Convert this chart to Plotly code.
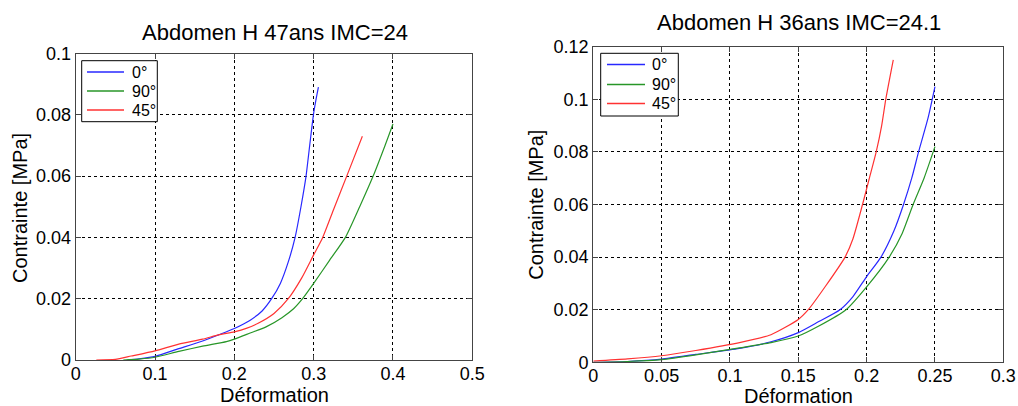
import plotly.graph_objects as go

# ---- Left chart: Abdomen H 47ans IMC=24 ----
left_title = "Abdomen H 47ans IMC=24"
l0_x = [0.065, 0.08, 0.10, 0.13, 0.16, 0.18, 0.20, 0.22, 0.235, 0.247, 0.258, 0.268, 0.2766, 0.284, 0.2904, 0.295, 0.2997, 0.303, 0.306]
l0_y = [0.0, 0.0004, 0.0012, 0.0037, 0.0062, 0.0082, 0.0103, 0.013, 0.016, 0.02, 0.025, 0.032, 0.04, 0.05, 0.06, 0.07, 0.08, 0.085, 0.089]
l90_x = [0.06, 0.08, 0.10, 0.13, 0.16, 0.19, 0.20, 0.22, 0.24, 0.26, 0.275, 0.286, 0.30, 0.32, 0.34, 0.358, 0.375, 0.39, 0.40]
l90_y = [0.0, 0.0003, 0.0009, 0.0028, 0.0045, 0.006, 0.0068, 0.0088, 0.0108, 0.0138, 0.0168, 0.02, 0.025, 0.0325, 0.04, 0.05, 0.06, 0.07, 0.077]
l45_x = [0.026, 0.05, 0.07, 0.10, 0.13, 0.16, 0.18, 0.20, 0.215, 0.23, 0.25, 0.268, 0.285, 0.30, 0.3114, 0.326, 0.3417, 0.3614]
l45_y = [0.0, 0.0002, 0.0013, 0.003, 0.0052, 0.0068, 0.0082, 0.0092, 0.0103, 0.012, 0.0152, 0.02, 0.0268, 0.0343, 0.04, 0.0497, 0.06, 0.073]
left_xticks = [0, 0.1, 0.2, 0.3, 0.4, 0.5]
left_xlabels = ["0", "0.1", "0.2", "0.3", "0.4", "0.5"]
left_yticks = [0, 0.02, 0.04, 0.06, 0.08, 0.1]
left_ylabels = ["0", "0.02", "0.04", "0.06", "0.08", "0.1"]

# ---- Right chart: Abdomen H 36ans IMC=24.1 ----
right_title = "Abdomen H 36ans IMC=24.1"
r0_x = [0.0, 0.025, 0.05, 0.075, 0.107, 0.13, 0.15, 0.165, 0.1805, 0.19, 0.20, 0.2105, 0.22, 0.227, 0.233, 0.238, 0.245, 0.25]
r0_y = [0.0, 0.0003, 0.0012, 0.003, 0.0053, 0.0078, 0.0113, 0.0155, 0.02, 0.025, 0.0326, 0.04, 0.05, 0.06, 0.07, 0.08, 0.093, 0.1048]
r90_x = [0.0, 0.025, 0.05, 0.075, 0.107, 0.13, 0.15, 0.165, 0.1849, 0.20, 0.2165, 0.226, 0.234, 0.242, 0.25]
r90_y = [0.0, 0.0003, 0.001, 0.0028, 0.0055, 0.0075, 0.01, 0.0138, 0.02, 0.0287, 0.04, 0.049, 0.06, 0.07, 0.082]
r45_x = [0.0, 0.025, 0.05, 0.075, 0.107, 0.13, 0.15, 0.1573, 0.17, 0.1842, 0.19, 0.197, 0.202, 0.207, 0.211, 0.214, 0.2195]
r45_y = [0.0005, 0.0013, 0.0025, 0.0045, 0.0075, 0.0105, 0.0163, 0.02, 0.029, 0.04, 0.047, 0.06, 0.07, 0.08, 0.09, 0.1, 0.115]
right_xticks = [0, 0.05, 0.1, 0.15, 0.2, 0.25, 0.3]
right_xlabels = ["0", "0.05", "0.1", "0.15", "0.2", "0.25", "0.3"]
right_yticks = [0, 0.02, 0.04, 0.06, 0.08, 0.1, 0.12]
right_ylabels = ["0", "0.02", "0.04", "0.06", "0.08", "0.1", "0.12"]

series_names = ["0°", "90°", "45°"]
series_colors = ["rgb(40,40,255)", "rgb(40,150,40)", "rgb(255,50,50)"]

xlabel = "Déformation"
ylabel = "Contrainte [MPa]"

FONT = "Liberation Sans, Arial, sans-serif"
W, H = 1018, 406

fig = go.Figure()
left_data = [(l0_x, l0_y), (l90_x, l90_y), (l45_x, l45_y)]
right_data = [(r0_x, r0_y), (r90_x, r90_y), (r45_x, r45_y)]
for (xs, ys), name, col in zip(left_data, series_names, series_colors):
    fig.add_trace(go.Scatter(x=xs, y=ys, mode="lines", name=name, showlegend=False,
                             line=dict(color=col, width=1.2, shape="spline", smoothing=0.6),
                             xaxis="x", yaxis="y"))
for (xs, ys), name, col in zip(right_data, series_names, series_colors):
    fig.add_trace(go.Scatter(x=xs, y=ys, mode="lines", name=name, showlegend=False,
                             line=dict(color=col, width=1.2, shape="spline", smoothing=0.6),
                             xaxis="x2", yaxis="y2"))

def px_x(p):
    return p / W

def px_y(p):
    return (H - p) / H

axis_common = dict(
    showline=True, linecolor="#444", linewidth=1.2, mirror="ticks",
    ticks="inside", ticklen=5, tickcolor="#444", tickwidth=1,
    showgrid=True, gridcolor="black", griddash="dot", gridwidth=1,
    zeroline=False, tickfont=dict(family=FONT, size=18, color="black"),
    fixedrange=True, automargin=False,
)

fig.update_layout(
    width=W, height=H,
    margin=dict(l=0, r=0, t=0, b=0),
    paper_bgcolor="white", plot_bgcolor="white",
    font=dict(family=FONT, color="black"),
    showlegend=False,
    xaxis=dict(domain=[px_x(75.7), px_x(472.3)], range=[0, 0.5], ticklabelstandoff=-3,
               tickvals=left_xticks, ticktext=left_xlabels, anchor="y", **axis_common),
    yaxis=dict(domain=[px_y(360), px_y(53.5)], range=[0, 0.1],
               tickvals=left_yticks, ticktext=left_ylabels, anchor="x", **axis_common),
    xaxis2=dict(domain=[px_x(593.3), px_x(1003.3)], range=[0, 0.3], ticklabelstandoff=-3,
                tickvals=right_xticks, ticktext=right_xlabels, anchor="y2", **axis_common),
    yaxis2=dict(domain=[px_y(362.3), px_y(46.7)], range=[0, 0.12],
                tickvals=right_yticks, ticktext=right_ylabels, anchor="x2", **axis_common),
)

# Legend boxes (MATLAB style), in pixel positions of the page
legend_specs = [
    dict(box=(81.7, 60.7, 157.3, 121.7), line_x=(87, 124), text_x=130, rows=(72, 91, 110)),
    dict(box=(600.7, 53.3, 678.3, 116), line_x=(607, 645), text_x=650, rows=(64.5, 84.5, 103.5)),
]
for spec in legend_specs:
    x0, y0, x1, y1 = spec["box"]
    fig.add_shape(type="rect", xref="paper", yref="paper",
                  x0=px_x(x0), x1=px_x(x1), y0=px_y(y1), y1=px_y(y0),
                  line=dict(color="black", width=1), fillcolor="white", layer="above")
    for name, col, ry in zip(series_names, series_colors, spec["rows"]):
        fig.add_shape(type="line", xref="paper", yref="paper",
                      x0=px_x(spec["line_x"][0]), x1=px_x(spec["line_x"][1]),
                      y0=px_y(ry), y1=px_y(ry), line=dict(color=col, width=1.5), layer="above")
        fig.add_annotation(text=name, x=px_x(spec["text_x"]), y=px_y(ry), xref="paper", yref="paper",
                           xanchor="left", yanchor="middle", showarrow=False,
                           font=dict(family=FONT, size=16, color="black"))

annots = [
    dict(text=left_title, x=px_x(275), y=px_y(32), size=22),
    dict(text=right_title, x=px_x(799), y=px_y(23), size=22),
    dict(text=xlabel, x=px_x(274), y=px_y(395), size=20),
    dict(text=xlabel, x=px_x(798), y=px_y(396), size=20),
]
for a in annots:
    fig.add_annotation(text=a["text"], x=a["x"], y=a["y"], xref="paper", yref="paper",
                       xanchor="center", yanchor="middle", showarrow=False,
                       font=dict(family=FONT, size=a["size"], color="black"))
for xc, yc in [(20, 208), (535.7, 205)]:
    fig.add_annotation(text=ylabel, x=px_x(xc), y=px_y(yc), xref="paper", yref="paper",
                       xanchor="center", yanchor="middle", showarrow=False, textangle=-90,
                       font=dict(family=FONT, size=20, color="black"))

fig.write_html("out.html", config={"displayModeBar": False},
               post_script="document.body.style.margin='0';document.body.style.overflow='hidden';")
